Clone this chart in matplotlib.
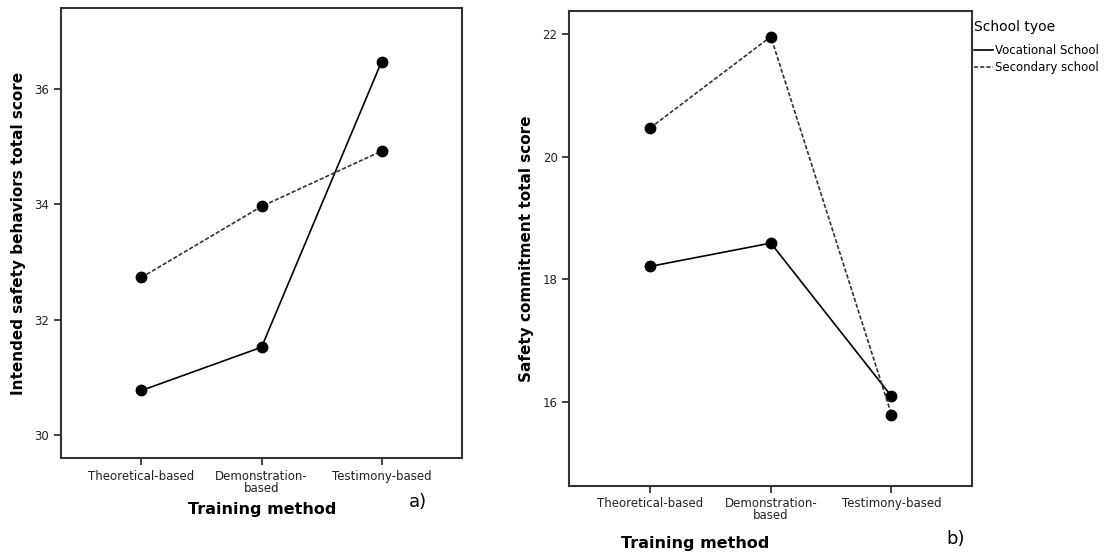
import matplotlib
matplotlib.use("Agg")
import matplotlib.pyplot as plt
from matplotlib.lines import Line2D

# data
methods = ["Theoretical-based", "Demonstration-\nbased", "Testimony-based"]
school_types = ["Vocational School", "Secondary school"]

behaviors_vocational = [30.77, 31.52, 36.47]
behaviors_secondary = [32.73, 33.96, 34.92]

commitment_vocational = [18.21, 18.59, 16.09]
commitment_secondary = [20.47, 21.96, 15.79]

plt.rcParams["font.family"] = "DejaVu Sans"

fig = plt.figure(figsize=(11.12, 5.54), dpi=100)
ax1 = fig.add_axes([0.0549, 0.1733, 0.3606, 0.8123])
ax2 = fig.add_axes([0.512, 0.1233, 0.3624, 0.857])

x = list(range(len(methods)))


def draw_panel(ax, voc, sec, ylim, yticks, ylabel):
    ax.plot(x, voc, color="black", linestyle="-", linewidth=1.2,
            marker="o", markersize=7.5)
    ax.plot(x, sec, color="#333333", linestyle=(0, (2.5, 1.2)), linewidth=1.2,
            marker="o", markersize=7.5, markerfacecolor="black", markeredgecolor="black")
    ax.set_xlim(-0.67, 2.67)
    ax.set_ylim(*ylim)
    ax.set_yticks(yticks)
    ax.set_xticks(x)
    ax.set_xticklabels(methods, fontsize=8.5, linespacing=0.9, color="#222222")
    ax.tick_params(axis="y", labelsize=8.5, length=5, width=1.2, colors="#222222")
    ax.tick_params(axis="x", length=5, width=1.2, colors="#222222")
    for sp in ax.spines.values():
        sp.set_linewidth(1.5)
        sp.set_color("#333333")
    ax.set_ylabel(ylabel, fontsize=11, fontweight="bold", labelpad=6)


draw_panel(ax1, behaviors_vocational, behaviors_secondary, (29.6, 37.4),
           [30, 32, 34, 36], "Intended safety behaviors total score")
draw_panel(ax2, commitment_vocational, commitment_secondary, (14.63, 22.38),
           [16, 18, 20, 22], "Safety commitment total score")

fig.text(0.236, 0.072, "Training method", fontsize=11.5, fontweight="bold", ha="center")
fig.text(0.376, 0.085, "a)", fontsize=13, ha="center")
fig.text(0.625, 0.010, "Training method", fontsize=11.5, fontweight="bold", ha="center")
fig.text(0.859, 0.018, "b)", fontsize=13, ha="center")

handles = [Line2D([], [], color="black", linewidth=1.2),
           Line2D([], [], color="#333333", linewidth=1.2, linestyle=(0, (2.5, 1.2)))]
leg = fig.legend(handles, school_types, title="School tyoe", loc="upper left",
                 bbox_to_anchor=(0.876, 0.963), frameon=False, fontsize=8.5,
                 title_fontsize=10, handlelength=1.6, handletextpad=0.2,
                 labelspacing=0.35, borderpad=0.0, borderaxespad=0.0)
leg._legend_box.align = "left"
leg._legend_box.sep = 7

fig.savefig("out.png", dpi=100)
